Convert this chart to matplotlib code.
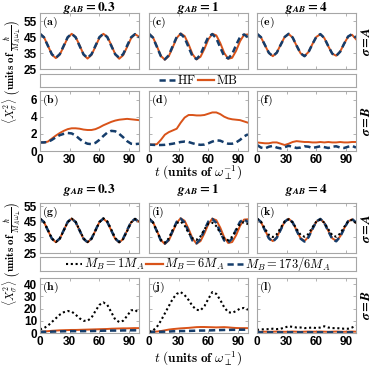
import matplotlib
matplotlib.use('Agg')
import matplotlib.pyplot as plt
from matplotlib.lines import Line2D

plt.rcParams['mathtext.fontset'] = 'cm'
plt.rcParams['font.family'] = ['Liberation Sans', 'DejaVu Sans']

# === DATA ===
t = [0, 4, 8, 12, 16, 20, 24, 28, 32, 36, 40, 44, 48, 52, 56, 60, 64, 68, 72, 76, 80, 84, 88, 92, 96, 100]

# top block, sigma = A
a_hf = [47.0, 44.8, 39.5, 34.2, 32.0, 34.3, 39.6, 44.9, 47.0, 44.8, 39.4, 34.1, 31.9, 34.2, 39.5, 44.9, 47.0, 44.9, 39.5, 34.2, 32.0, 34.3, 39.6, 44.8, 46.8, 44.7]
a_mb = [47.0, 44.9, 39.6, 34.0, 31.8, 34.0, 39.2, 44.6, 47.0, 45.0, 39.8, 34.0, 31.5, 33.8, 39.0, 44.5, 47.0, 45.1, 40.0, 34.2, 31.4, 33.6, 38.8, 44.2, 46.8, 45.2]
c_hf = [47.0, 44.6, 38.8, 33.0, 31.0, 33.6, 39.4, 45.0, 47.0, 44.4, 38.6, 32.9, 31.2, 34.0, 39.8, 45.2, 46.8, 44.2, 38.4, 33.0, 31.6, 34.3, 40.0, 45.0, 46.6, 44.8]
c_mb = [47.0, 44.8, 39.2, 33.2, 30.8, 33.0, 38.6, 44.4, 47.2, 45.6, 40.4, 34.2, 31.0, 32.6, 37.6, 43.6, 47.0, 46.0, 41.2, 35.0, 31.4, 32.0, 36.4, 42.4, 46.4, 46.6]
e_hf = [47.0, 44.9, 40.0, 35.1, 33.0, 35.2, 40.2, 45.0, 47.0, 44.7, 39.6, 34.8, 33.0, 35.5, 40.6, 45.2, 46.8, 44.4, 39.3, 34.6, 33.2, 35.8, 40.8, 45.3, 46.8, 44.6]
e_mb = [47.0, 44.8, 39.9, 35.0, 33.0, 35.3, 40.3, 45.1, 46.9, 44.6, 39.5, 34.8, 33.1, 35.6, 40.6, 45.1, 46.7, 44.3, 39.2, 34.6, 33.3, 35.9, 40.8, 45.2, 46.4, 43.6]

# top block, sigma = B
b_hf = [1.0, 1.0, 1.05, 1.3, 1.6, 1.85, 2.0, 2.1, 2.05, 1.8, 1.4, 1.05, 0.85, 0.8, 0.95, 1.3, 1.75, 2.15, 2.35, 2.3, 2.0, 1.6, 1.15, 0.85, 0.8, 0.85]
b_mb = [1.0, 1.0, 1.1, 1.45, 1.8, 2.1, 2.35, 2.55, 2.65, 2.65, 2.6, 2.5, 2.45, 2.45, 2.55, 2.75, 3.0, 3.2, 3.4, 3.55, 3.65, 3.7, 3.75, 3.7, 3.65, 3.6]
d_hf = [0.75, 0.72, 0.7, 0.7, 0.72, 0.78, 0.85, 0.95, 1.05, 1.1, 1.05, 0.9, 0.78, 0.72, 0.75, 0.9, 1.1, 1.25, 1.2, 1.0, 0.85, 0.85, 1.0, 1.3, 1.7, 1.95]
d_mb = [0.75, 0.75, 0.8, 1.3, 1.9, 2.2, 2.4, 2.6, 3.3, 3.9, 4.2, 4.2, 4.15, 4.15, 4.2, 4.35, 4.5, 4.5, 4.3, 4.0, 3.8, 3.7, 3.65, 3.6, 3.45, 3.3]
f_hf = [0.7, 0.4, 0.3, 0.5, 0.6, 0.4, 0.3, 0.45, 0.6, 0.5, 0.35, 0.4, 0.55, 0.5, 0.35, 0.45, 0.55, 0.45, 0.35, 0.5, 0.55, 0.4, 0.35, 0.5, 0.6, 0.4]
f_mb = [1.0, 0.95, 0.9, 0.9, 1.0, 1.0, 0.85, 0.7, 0.85, 1.05, 1.15, 1.1, 1.05, 1.05, 1.0, 1.0, 1.05, 1.0, 1.05, 1.0, 1.0, 1.05, 1.0, 1.0, 1.05, 1.05]

# bottom block, sigma = A  (M_B = 1, 6, 173/6 M_A)
g_m1 = [47.0, 44.9, 39.7, 34.3, 32.0, 34.2, 39.4, 44.8, 47.0, 45.0, 39.7, 34.3, 32.0, 34.1, 39.3, 44.7, 47.2, 45.2, 40.0, 34.5, 32.0, 33.9, 39.0, 44.5, 46.8, 45.5]
g_m6 = [47.0, 44.8, 39.5, 34.1, 31.9, 34.2, 39.5, 44.9, 47.0, 44.8, 39.4, 34.0, 31.8, 34.1, 39.4, 44.8, 46.9, 44.8, 39.4, 34.0, 31.7, 34.0, 39.3, 44.6, 46.8, 45.0]
g_m173 = [47.0, 44.8, 39.5, 34.2, 32.0, 34.3, 39.6, 44.9, 47.0, 44.8, 39.4, 34.1, 31.9, 34.2, 39.5, 44.9, 47.0, 44.9, 39.5, 34.2, 32.0, 34.3, 39.6, 44.8, 46.8, 44.7]
i_m1 = [47.0, 44.6, 39.0, 33.4, 31.6, 34.4, 39.8, 44.2, 45.2, 42.6, 37.8, 34.4, 33.4, 35.6, 40.2, 43.8, 44.4, 42.2, 37.8, 34.2, 33.2, 35.4, 39.6, 43.6, 44.8, 43.4]
i_m6 = [47.0, 44.8, 39.2, 33.2, 30.8, 33.0, 38.6, 44.4, 47.2, 45.6, 40.4, 34.2, 31.0, 32.6, 37.6, 43.6, 47.0, 46.0, 41.2, 35.0, 31.4, 32.0, 36.4, 42.4, 46.4, 46.6]
i_m173 = [47.0, 44.6, 38.8, 33.0, 31.0, 33.6, 39.4, 45.0, 47.0, 44.4, 38.6, 32.9, 31.2, 34.0, 39.8, 45.2, 46.8, 44.2, 38.4, 33.0, 31.6, 34.3, 40.0, 45.0, 46.6, 44.8]
k_m1 = [47.0, 45.0, 40.6, 36.6, 35.2, 37.0, 41.2, 45.2, 46.6, 44.6, 40.4, 36.6, 35.4, 37.2, 41.4, 45.2, 46.4, 44.4, 40.2, 36.4, 35.4, 37.4, 41.6, 45.2, 46.2, 44.2]
k_m6 = [47.0, 44.8, 39.7, 34.6, 32.6, 35.0, 40.2, 45.0, 46.9, 44.6, 39.5, 34.5, 32.7, 35.3, 40.5, 45.1, 46.7, 44.3, 39.2, 34.4, 32.8, 35.6, 40.7, 45.2, 46.6, 44.3]
k_m173 = [47.0, 44.9, 39.6, 34.4, 32.2, 34.8, 40.0, 45.0, 47.0, 44.6, 39.4, 34.2, 32.3, 35.1, 40.4, 45.2, 46.8, 44.3, 39.0, 34.0, 32.5, 35.4, 40.6, 45.3, 46.8, 44.5]

# bottom block, sigma = B
h_m1 = [3, 4, 6, 9, 12, 15, 17, 18, 17.5, 15, 12, 10, 10, 12.5, 18, 23, 25, 23, 17, 11, 9, 10, 14, 18.5, 19, 16]
h_m6 = [1.0, 1.2, 1.5, 1.8, 2.0, 2.2, 2.3, 2.4, 2.5, 2.5, 2.6, 2.7, 2.8, 2.9, 3.0, 3.1, 3.2, 3.3, 3.5, 3.6, 3.7, 3.8, 3.8, 3.9, 4.0, 4.0]
h_m173 = [1.0, 1.0, 1.0, 1.1, 1.2, 1.3, 1.4, 1.5, 1.5, 1.5, 1.5, 1.5, 1.6, 1.6, 1.7, 1.8, 1.9, 1.9, 2.0, 2.0, 2.0, 2.1, 2.1, 2.2, 2.2, 2.2]
j_m1 = [1, 2, 5, 10, 16, 22, 28, 32, 33.5, 31, 27, 22, 19, 18.5, 22, 28, 33.5, 32, 27, 21, 17, 16.5, 18, 20, 20.5, 19]
j_m6 = [1.0, 1.0, 1.2, 1.6, 2.2, 2.8, 3.2, 3.5, 3.8, 4.0, 4.2, 4.5, 4.8, 4.9, 4.9, 4.8, 4.7, 4.6, 4.7, 4.8, 4.6, 4.3, 4.1, 4.0, 4.0, 4.0]
j_m173 = [1.0, 1.0, 1.0, 1.0, 1.1, 1.2, 1.4, 1.5, 1.6, 1.6, 1.7, 1.8, 1.9, 2.0, 2.0, 2.1, 2.2, 2.3, 2.4, 2.5, 2.5, 2.6, 2.6, 2.7, 2.7, 2.8]
l_m1 = [2.5, 3.0, 3.0, 3.2, 3.5, 3.2, 3.5, 4.5, 5.5, 5.0, 4.5, 4.5, 4.0, 4.2, 4.5, 4.0, 4.5, 5.5, 4.5, 4.0, 4.0, 3.8, 3.5, 3.5, 4.5, 6.0]
l_m6 = [1.0, 1.0, 1.1, 1.0, 1.1, 1.2, 1.1, 1.0, 1.1, 1.2, 1.1, 1.0, 1.1, 1.2, 1.1, 1.1, 1.2, 1.1, 1.0, 1.1, 1.2, 1.1, 1.0, 1.1, 1.2, 1.1]
l_m173 = [0.6, 0.5, 0.6, 0.5, 0.6, 0.6, 0.5, 0.6, 0.5, 0.6, 0.6, 0.5, 0.6, 0.5, 0.6, 0.6, 0.5, 0.6, 0.5, 0.6, 0.6, 0.5, 0.6, 0.5, 0.6, 0.6]

col_titles = ['0.3', '1', '4']
xticks = [0, 30, 60, 90]

# === STYLE ===
ORANGE = '#D95319'
NAVY = '#153D6B'
GREY = '#A6A6A6'
DASH = (0, (2.5, 1.5))
DOT = (0, (1, 1.3))
W, H = 374, 368

fig = plt.figure(figsize=(W / 100, H / 100), dpi=100)


def ax_at(x0, y0, x1, y1):
    return fig.add_axes([x0 / W, 1 - y1 / H, (x1 - x0) / W, (y1 - y0) / H])


def style(ax, ylim, yticks, show_y, show_x, label):
    ax.set_xlim(0, 100)
    ax.set_ylim(*ylim)
    ax.set_xticks(xticks)
    ax.set_yticks(yticks)
    for s in ax.spines.values():
        s.set_color(GREY)
        s.set_linewidth(0.8)
    ax.tick_params(direction='in', length=2, width=0.6, color=GREY, top=True, right=True,
                   labelsize=8.5, pad=2)
    for lab in ax.get_xticklabels() + ax.get_yticklabels():
        lab.set_fontweight('bold')
    if not show_y:
        ax.set_yticklabels([])
    if not show_x:
        ax.set_xticklabels([])
    ax.text(0.02, 0.97, r'$\mathbf{(%s)}$' % label, transform=ax.transAxes,
            ha='left', va='top', fontsize=8.5)


def col_title(xc, ybase, s):
    fig.text(xc / W, 1 - ybase / H,
             r'$\boldsymbol{g}_{\boldsymbol{AB}}\mathbf{=%s}$' % s,
             ha='center', va='baseline', fontsize=9.5, math_fontfamily='stix')


cols = [(40, 139), (149, 248), (257, 356)]

# ---- top block ----
topA = [(a_hf, a_mb), (c_hf, c_mb), (e_hf, e_mb)]
topB = [(b_hf, b_mb), (d_hf, d_mb), (f_hf, f_mb)]
for k, (x0, x1) in enumerate(cols):
    ax = ax_at(x0, 13, x1, 69)
    hf, mb = topA[k]
    ax.plot(t, mb, color=ORANGE, lw=1.4)
    ax.plot(t, hf, color=NAVY, lw=1.8, ls=DASH)
    style(ax, (25, 60), [25, 35, 45, 55], k == 0, False, 'ace'[k])
    col_title((x0 + x1) / 2, 10.5, col_titles[k])

    ax = ax_at(x0, 91, x1, 151)
    hf, mb = topB[k]
    ax.plot(t, mb, color=ORANGE, lw=1.4)
    ax.plot(t, hf, color=NAVY, lw=1.8, ls=DASH)
    style(ax, (0, 7), [0, 2, 4, 6], k == 0, True, 'bdf'[k])

# ---- bottom block ----
botA = [(g_m1, g_m6, g_m173), (i_m1, i_m6, i_m173), (k_m1, k_m6, k_m173)]
botB = [(h_m1, h_m6, h_m173), (j_m1, j_m6, j_m173), (l_m1, l_m6, l_m173)]
for k, (x0, x1) in enumerate(cols):
    ax = ax_at(x0, 203, x1, 253)
    m1, m6, m173 = botA[k]
    ax.plot(t, m6, color=ORANGE, lw=1.4)
    ax.plot(t, m173, color=NAVY, lw=1.8, ls=DASH)
    ax.plot(t, m1, color='black', lw=1.5, ls=DOT)
    style(ax, (25, 57), [25, 35, 45, 55], k == 0, False, 'gik'[k])
    col_title((x0 + x1) / 2, 193, col_titles[k])

    ax = ax_at(x0, 278, x1, 333)
    m1, m6, m173 = botB[k]
    ax.plot(t, m6, color=ORANGE, lw=1.4)
    ax.plot(t, m173, color=NAVY, lw=1.8, ls=DASH)
    ax.plot(t, m1, color='black', lw=1.5, ls=DOT)
    style(ax, (0, 45), [0, 10, 20, 30, 40], k == 0, True, 'hjl'[k])


# ---- legend boxes ----
def legend_box(y0, y1, handles, labels):
    lax = ax_at(40, y0, 356, y1)
    lax.set_xticks([])
    lax.set_yticks([])
    for s in lax.spines.values():
        s.set_color(GREY)
        s.set_linewidth(0.8)
    lax.legend(handles, labels, loc='center', ncol=len(labels), frameon=False,
               fontsize=9, handlelength=1.3, handletextpad=0.15, columnspacing=0.15,
               borderpad=0, borderaxespad=0)


legend_box(74, 87,
           [Line2D([], [], color=NAVY, lw=1.8, ls=DASH),
            Line2D([], [], color=ORANGE, lw=1.6)],
           [r'$\mathrm{HF}$', r'$\mathrm{MB}$'])
legend_box(257, 271,
           [Line2D([], [], color='black', lw=1.5, ls=DOT),
            Line2D([], [], color=ORANGE, lw=1.6),
            Line2D([], [], color=NAVY, lw=1.8, ls=DASH)],
           [r'$M_B=1M_A$', r'$M_B=6M_A$', r'$M_B=173/6M_A$'])

# ---- shared labels ----
xlab = r'$t\ \mathbf{(units\ of}\ \boldsymbol{\omega_\perp^{-1}}\mathbf{)}$'
fig.text(198 / W, 1 - 177 / H, xlab, ha='center', va='baseline', fontsize=9.5)
fig.text(198 / W, 1 - 363 / H, xlab, ha='center', va='baseline', fontsize=9.5)

ylab = r'$\boldsymbol{\langle X_\sigma^2\rangle}\ \left(\mathbf{units\ of}\ \frac{\hbar}{M_A\omega_\perp}\right)$'
fig.text(12 / W, 1 - 72 / H, ylab, rotation=90, ha='center', va='center', fontsize=8)
fig.text(12 / W, 1 - 254 / H, ylab, rotation=90, ha='center', va='center', fontsize=8)

for yc, s in [(41, 'A'), (121, 'B'), (228, 'A'), (305, 'B')]:
    fig.text(366 / W, 1 - yc / H, r'$\boldsymbol{\sigma=A}$'.replace('A', s), rotation=90,
             ha='center', va='center', fontsize=9.5, math_fontfamily='stix')

fig.savefig('out.png', dpi=100)
